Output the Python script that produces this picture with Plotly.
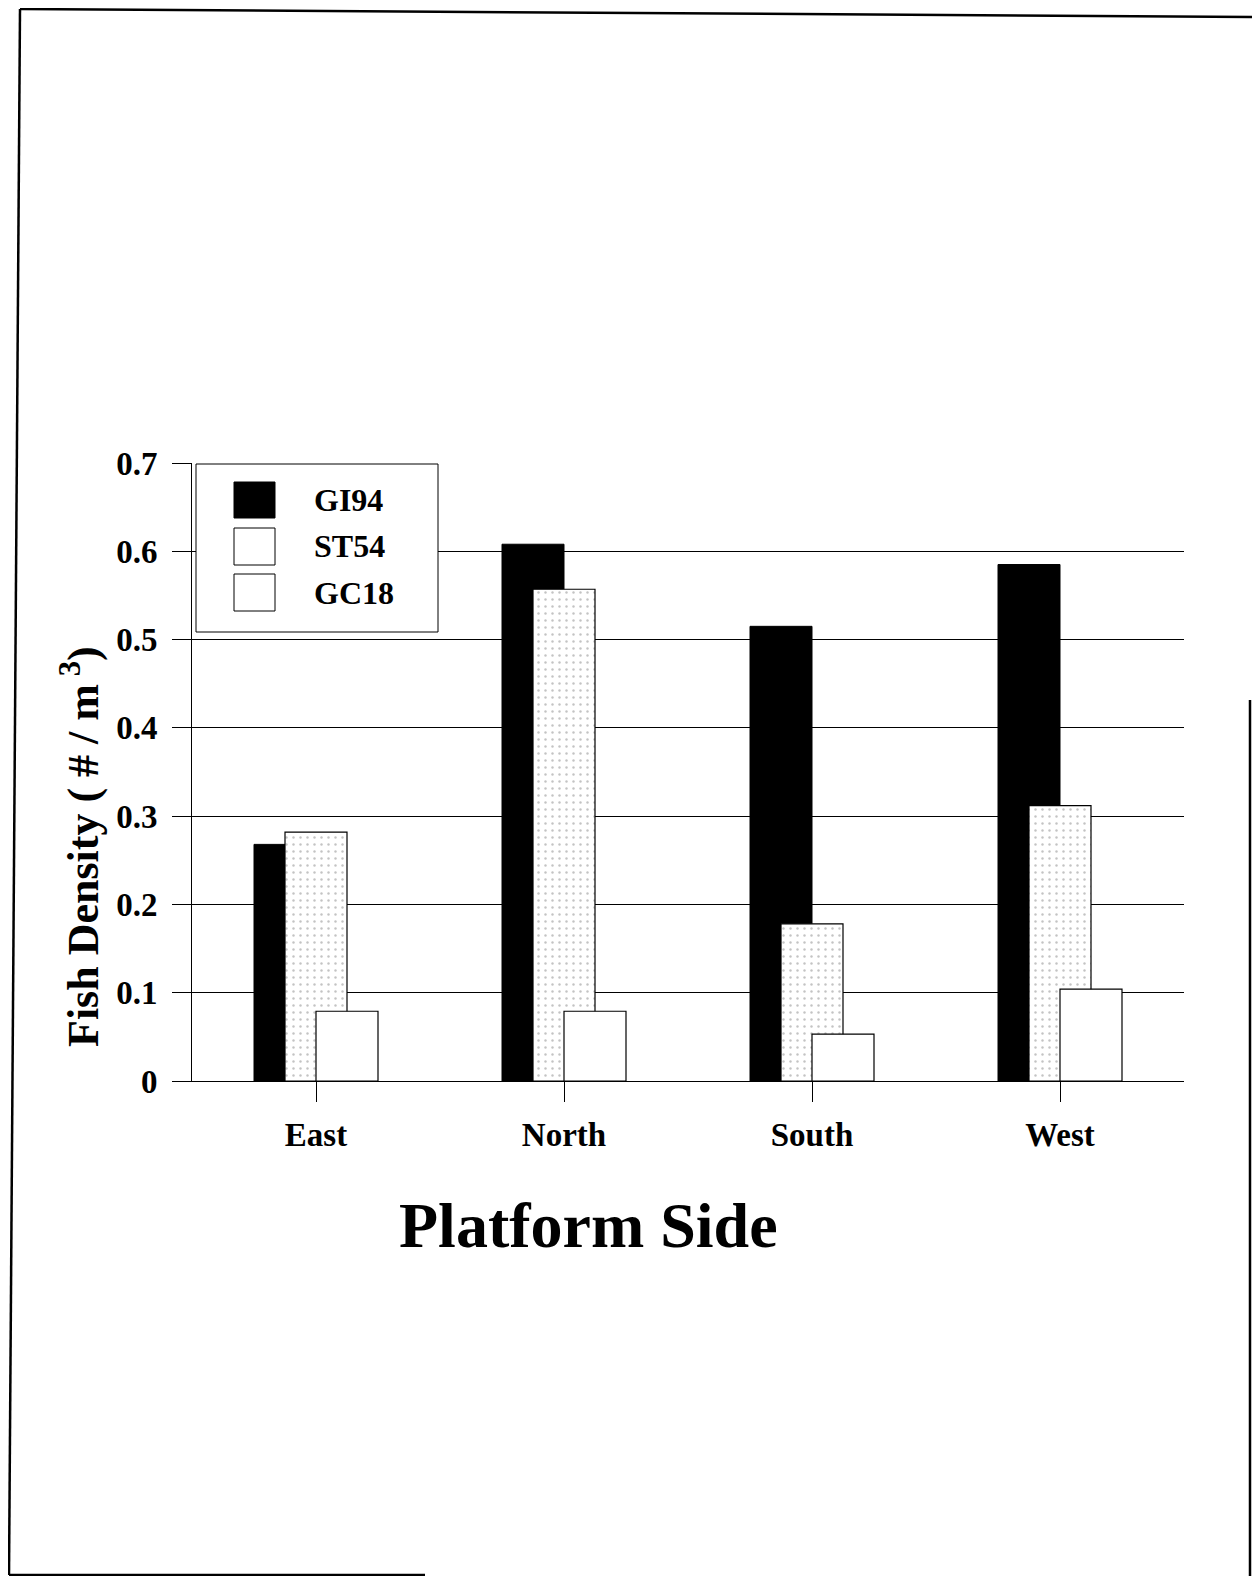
import plotly.graph_objects as go

categories = ["East", "North", "South", "West"]
series_names = ["GI94", "ST54", "GC18"]
gi94 = [0.268, 0.608, 0.515, 0.585]
st54 = [0.282, 0.557, 0.178, 0.312]
gc18 = [0.079, 0.079, 0.053, 0.104]
y_ticks = [0, 0.1, 0.2, 0.3, 0.4, 0.5, 0.6, 0.7]
y_ticktext = ["0", "0.1", "0.2", "0.3", "0.4", "0.5", "0.6", "0.7"]

# page body has an 8px margin; figure is sized to fit the window
OFF = 8
W, H = 1244, 1568
# plot area in page (reference) pixel coordinates
PL, PR, PT, PB = 192, 1184, 463, 1081
L, T = PL - OFF, PT - OFF
R = (OFF + W) - PR
B = (OFF + H) - PB
PW, PH = PR - PL, PB - PT


def px(x):
    return (x - PL) / PW


def py(y):
    return (PB - y) / PH


FONT = "Liberation Serif"

fig = go.Figure()
fig.add_trace(go.Bar(
    x=categories, y=gi94, name=series_names[0], width=0.25, offset=-0.25,
    marker=dict(color="black", line=dict(color="black", width=1)),
))
fig.add_trace(go.Bar(
    x=categories, y=st54, name=series_names[1], width=0.25, offset=-0.125,
    marker=dict(color="white", line=dict(color="black", width=1.2),
                pattern=dict(shape=".", fgcolor="#888888", bgcolor="white",
                             size=7, solidity=0.1)),
))
fig.add_trace(go.Bar(
    x=categories, y=gc18, name=series_names[2], width=0.25, offset=0.0,
    marker=dict(color="white", line=dict(color="black", width=1.2)),
))

shapes = []
# legend box
shapes.append(dict(type="rect", xref="paper", yref="paper",
                   x0=px(196), x1=px(438), y0=py(632), y1=py(464),
                   line=dict(color="black", width=1), fillcolor="white", layer="above"))
sw = [(482, 518, "black"), (528, 565, "white"), (574, 611, "white")]
for y0, y1, c in sw:
    shapes.append(dict(type="rect", xref="paper", yref="paper",
                       x0=px(234), x1=px(275), y0=py(y1), y1=py(y0),
                       line=dict(color="black", width=1), fillcolor=c, layer="above"))
# page frame (scanned sheet edges)
frame = [((20, 9), (1260, 17)), ((20, 9), (9, 1575)), ((9, 1575), (425, 1575)),
         ((1250, 700), (1250, 1580))]
for (x0, y0), (x1, y1) in frame:
    shapes.append(dict(type="line", xref="paper", yref="paper",
                       x0=px(x0), y0=py(y0), x1=px(x1), y1=py(y1),
                       line=dict(color="black", width=2.5)))

annotations = []
for name, yc in zip(series_names, [500, 546, 593]):
    annotations.append(dict(text=name, xref="paper", yref="paper", x=px(312), y=py(yc),
                            xanchor="left", yanchor="middle", showarrow=False,
                            font=dict(family=FONT, size=32, color="black", weight="bold")))
annotations.append(dict(text="Platform Side", xref="paper", yref="paper",
                        x=px(588), y=py(1225), xanchor="center", yanchor="middle",
                        showarrow=False,
                        font=dict(family=FONT, size=64, color="black", weight="bold")))
annotations.append(dict(text="Fish Density ( # / m<sup> 3</sup>)", xref="paper", yref="paper",
                        x=px(80), y=py(847), xanchor="center", yanchor="middle",
                        textangle=-90, showarrow=False,
                        font=dict(family=FONT, size=44, color="black", weight="bold")))

fig.update_layout(
    width=W, height=H,
    margin=dict(l=L, r=R, t=T, b=B, autoexpand=False),
    paper_bgcolor="white", plot_bgcolor="white",
    barmode="overlay", showlegend=False,
    shapes=shapes, annotations=annotations,
    font=dict(family=FONT, color="black"),
)
fig.update_xaxes(
    type="category", range=[-0.5, 3.5], showgrid=False,
    showline=True, linecolor="black", linewidth=1,
    ticks="outside", ticklen=20, tickcolor="black", tickwidth=1,
    ticklabelstandoff=4,
    tickfont=dict(family=FONT, size=33, color="black", weight="bold"),
)
fig.update_yaxes(
    range=[0, 0.7], tickvals=y_ticks, ticktext=y_ticktext,
    showgrid=True, gridcolor="black", gridwidth=1,
    showline=True, linecolor="black", linewidth=1,
    zeroline=False,
    ticks="outside", ticklen=19, tickcolor="black", tickwidth=1,
    ticklabelstandoff=8,
    tickfont=dict(family=FONT, size=33, color="black", weight="bold"),
)

fig.write_html("out.html")
